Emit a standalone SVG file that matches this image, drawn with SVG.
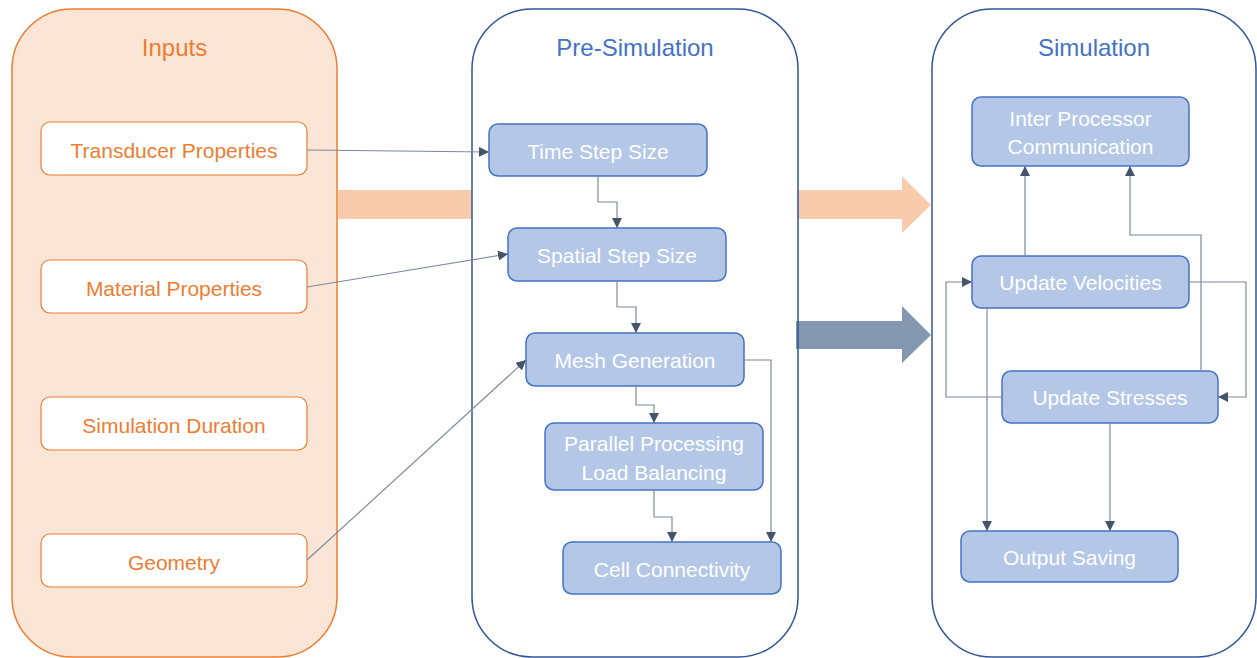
<svg xmlns="http://www.w3.org/2000/svg" width="1257" height="658" viewBox="0 0 1257 658">
<defs>
<marker id="ah" viewBox="0 0 10 10" refX="10" refY="5" markerWidth="10" markerHeight="10" markerUnits="userSpaceOnUse" orient="auto">
<path d="M0,0 L10,5 L0,10 z" fill="#44546A"/>
</marker>
<style>
.title{font-family:"Liberation Sans",Arial,sans-serif;font-size:24px;text-anchor:middle}
.in{fill:#fff;stroke:#ED7D31;stroke-width:1.2}
.intext{font-family:"Liberation Sans",Arial,sans-serif;font-size:21px;fill:#ED7D31;text-anchor:middle}
.bn{fill:#B4C7E7;stroke:#4472C4;stroke-width:1.5}
.bt{font-family:"Liberation Sans",Arial,sans-serif;font-size:21px;fill:#fff;text-anchor:middle}
.c{fill:none;stroke:#7F8A9C;stroke-width:1.2;marker-end:url(#ah)}
</style>
</defs>
<rect width="1257" height="658" fill="#fff"/>
<g id="bands">
<rect x="338" y="190" width="134" height="29" fill="#F8CBAD"/>
<path d="M798,190 H902 V176 L931,205 L902,233 V219 H798 Z" fill="#F8CBAD"/>
<path d="M796,321 H902 V306 L931,335 L902,363 V349 H796 Z" fill="#8497B0"/>
</g>
<g id="inputs">
<rect x="12" y="9" width="325" height="648" rx="60" fill="#FBE5D6" stroke="#ED7D31" stroke-width="1.5"/>
<text class="title" x="174.5" y="56" fill="#ED7D31">Inputs</text>
</g>
<g id="presim">
<rect x="472" y="9" width="326" height="648" rx="60" fill="none" stroke="#2F5597" stroke-width="1.5"/>
<text class="title" x="635" y="56" fill="#4472C4">Pre-Simulation</text>
</g>
<g id="sim">
<rect x="932" y="9" width="324" height="648" rx="60" fill="none" stroke="#2F5597" stroke-width="1.5"/>
<text class="title" x="1094" y="56" fill="#4472C4">Simulation</text>
</g>
<g id="n-transducer"><rect class="in" x="41" y="122" width="266" height="53" rx="9"/><text class="intext" x="174" y="158">Transducer Properties</text></g>
<g id="n-material"><rect class="in" x="41" y="260" width="266" height="53" rx="9"/><text class="intext" x="174" y="296">Material Properties</text></g>
<g id="n-duration"><rect class="in" x="41" y="397" width="266" height="53" rx="9"/><text class="intext" x="174" y="433">Simulation Duration</text></g>
<g id="n-geometry"><rect class="in" x="41" y="534" width="266" height="53" rx="9"/><text class="intext" x="174" y="570">Geometry</text></g>
<g id="n-timestep"><rect class="bn" x="489" y="124" width="218" height="52" rx="9"/><text class="bt" x="598" y="159">Time Step Size</text></g>
<g id="n-spatial"><rect class="bn" x="508" y="228" width="218" height="53" rx="9"/><text class="bt" x="617" y="263">Spatial Step Size</text></g>
<g id="n-mesh"><rect class="bn" x="526" y="333" width="218" height="53" rx="9"/><text class="bt" x="635" y="368">Mesh Generation</text></g>
<g id="n-parallel"><rect class="bn" x="545" y="423" width="218" height="67" rx="9"/><text class="bt" x="654" y="451">Parallel Processing</text><text class="bt" x="654" y="480">Load Balancing</text></g>
<g id="n-cell"><rect class="bn" x="563" y="542" width="218" height="52" rx="9"/><text class="bt" x="672" y="577">Cell Connectivity</text></g>
<g id="n-ipc"><rect class="bn" x="972" y="97" width="217" height="69" rx="9"/><text class="bt" x="1080.5" y="126">Inter Processor</text><text class="bt" x="1080.5" y="154">Communication</text></g>
<g id="n-vel"><rect class="bn" x="972" y="256" width="217" height="52" rx="9"/><text class="bt" x="1080.5" y="290">Update Velocities</text></g>
<g id="n-stress"><rect class="bn" x="1002" y="371" width="216" height="52" rx="9"/><text class="bt" x="1110" y="405">Update Stresses</text></g>
<g id="n-output"><rect class="bn" x="961" y="531" width="217" height="51" rx="9"/><text class="bt" x="1069.5" y="565">Output Saving</text></g>
<g id="connectors">
<path class="c" d="M307,150 L489,152"/>
<path class="c" d="M307,287 L508,254"/>
<path class="c" d="M307,560 L526,360"/>
<path class="c" d="M598,176 V202 H617 V228"/>
<path class="c" d="M617,281 V307 H636 V333"/>
<path class="c" d="M636,386 V405 H654 V423"/>
<path class="c" d="M654,490 V517 H672 V542"/>
<path class="c" d="M744,360 H771 V542"/>
<path class="c" d="M1025,256 V166"/>
<path class="c" d="M1201,371 V235 H1130 V166"/>
<path class="c" d="M1189,282 H1246 V397 H1218"/>
<path class="c" d="M1002,397 H946 V282 H972"/>
<path class="c" d="M987,308 V531"/>
<path class="c" d="M1110,423 V531"/>
</g>
</svg>
